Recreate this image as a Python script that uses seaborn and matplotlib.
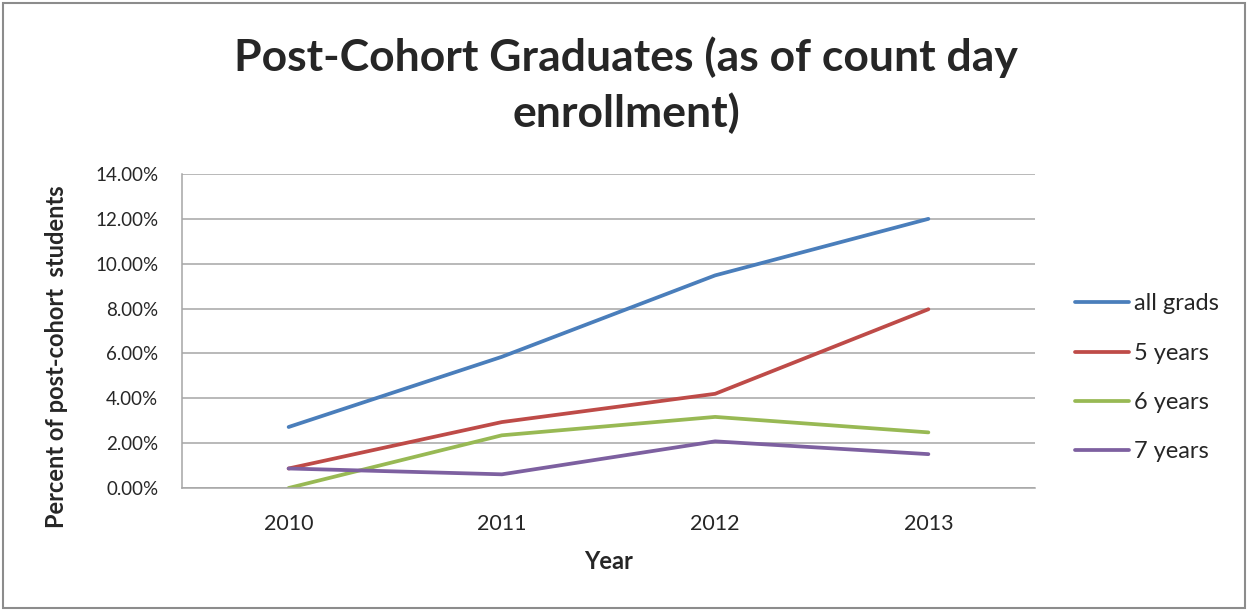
import matplotlib
matplotlib.use("Agg")
import matplotlib.pyplot as plt
import matplotlib.patches as mpatches
from matplotlib.ticker import PercentFormatter
import seaborn as sns
import pandas as pd

years = [2010, 2011, 2012, 2013]
all_grads = [2.72, 5.85, 9.48, 12.00]
five_years = [0.87, 2.94, 4.20, 7.97]
six_years = [0.00, 2.35, 3.17, 2.48]
seven_years = [0.87, 0.61, 2.08, 1.51]

series_names = ["all grads", "5 years", "6 years", "7 years"]
series_values = [all_grads, five_years, six_years, seven_years]
colors = ["#4A7EBB", "#BE4B48", "#98B954", "#7D60A0"]

y_ticks = [0, 2, 4, 6, 8, 10, 12, 14]

rows = []
for name, vals in zip(series_names, series_values):
    for yr, v in zip(years, vals):
        rows.append({"Year": yr, "Percent": v, "Series": name})
df = pd.DataFrame(rows)

sns.set_theme(style="white")
plt.rcParams["font.family"] = ["Lato", "DejaVu Sans"]

fig = plt.figure(figsize=(12.5, 6.11), dpi=100)
ax = fig.add_axes([0.1456, 0.2013, 0.828 - 0.1456, 0.7152 - 0.2013])

sns.lineplot(data=df, x="Year", y="Percent", hue="Series", hue_order=series_names,
             palette=colors, linewidth=2.7, ax=ax, legend=False,
             solid_capstyle="round")

ax.set_xlim(years[0] - 0.5, years[-1] + 0.5)
ax.set_ylim(0, 14)
ax.set_xticks(years)
ax.set_xticklabels([str(y) for y in years], fontsize=15.5)
ax.set_yticks(y_ticks)
ax.yaxis.set_major_formatter(PercentFormatter(decimals=2))
ax.tick_params(axis="y", labelsize=13.5, length=0, pad=17)
ax.tick_params(axis="x", length=0, pad=19)
ax.grid(axis="y", color="#A6A6A6", linewidth=1.1)
ax.set_axisbelow(True)
for side in ["top", "right"]:
    ax.spines[side].set_visible(False)
for side in ["left", "bottom"]:
    ax.spines[side].set_color("#A6A6A6")
    ax.spines[side].set_linewidth(1.1)

ax.set_xlabel("Year", fontsize=17, fontweight="bold", labelpad=11)
ax.set_ylabel("")
fig.text(0.045, 1 - 357 / 611, "Percent of post-cohort  students", rotation=90,
         ha="center", va="center", fontsize=17, fontweight="bold")

fig.text(0.501, 1 - 57 / 611, "Post-Cohort Graduates (as of count day",
         ha="center", va="center", fontsize=32, fontweight="bold")
fig.text(0.501, 1 - 113 / 611, "enrollment)",
         ha="center", va="center", fontsize=32, fontweight="bold")

handles = [plt.Line2D([], [], color=c, linewidth=2.7, solid_capstyle="round") for c in colors]
fig.legend(handles, series_names, loc="center left",
           bbox_to_anchor=(1075 / 1250, 1 - 378 / 611), frameon=False,
           borderaxespad=0, borderpad=0,
           fontsize=17, handlelength=2.3, handletextpad=0.2, labelspacing=1.2)

fig.patches.append(mpatches.Rectangle((3 / 1250, 3 / 611), 1242 / 1250, 605 / 611,
                                      transform=fig.transFigure, fill=False,
                                      edgecolor="#8C8C8C", linewidth=1.5))

fig.savefig("out.png", dpi=100)
